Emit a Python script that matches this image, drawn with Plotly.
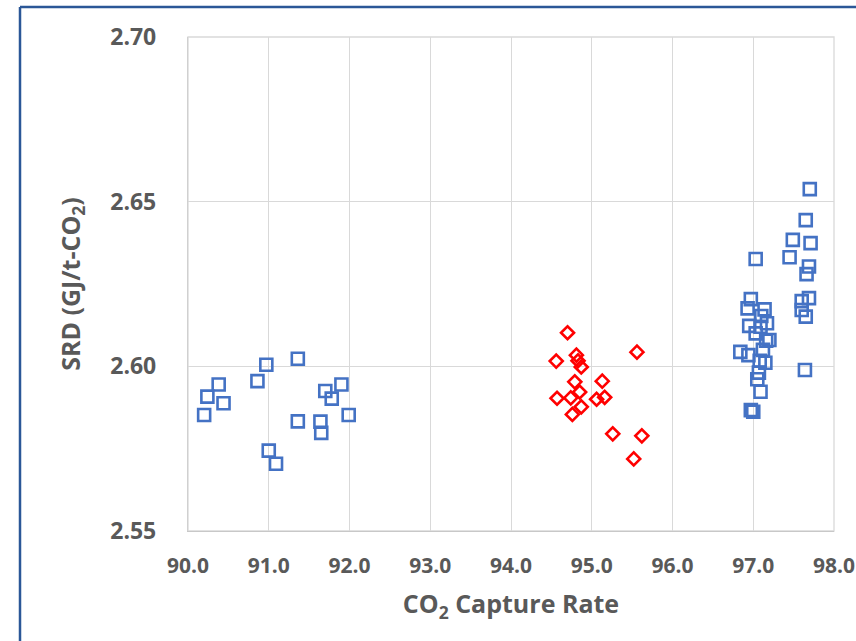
import plotly.graph_objects as go

# CO2 capture rate (%) and specific reboiler duty (GJ/t-CO2)
low_capture_rate = [90.20, 90.24, 90.38, 90.44, 90.86, 90.97, 91.36, 91.00,
                    91.09, 91.36, 91.70, 91.78, 91.90, 91.64, 91.65, 91.99]
low_srd = [2.5852, 2.5908, 2.5945, 2.5888, 2.5955, 2.6005, 2.6023, 2.5744,
           2.5704, 2.5833, 2.5925, 2.5902, 2.5945, 2.5832, 2.5798, 2.5852]

mid_capture_rate = [94.70, 94.56, 94.81, 94.83, 94.87, 95.56, 94.79, 95.13, 94.57,
                    94.74, 94.85, 95.06, 95.16, 94.87, 94.76, 95.26, 95.62, 95.52]
mid_srd = [2.6102, 2.6016, 2.6034, 2.6017, 2.5998, 2.6043, 2.5953, 2.5955, 2.5903,
           2.5904, 2.5922, 2.5900, 2.5906, 2.5877, 2.5854, 2.5795, 2.5789, 2.5719]

high_capture_rate = [97.70, 97.65, 97.49, 97.71, 97.45, 97.03, 97.69, 97.66, 97.69,
                     97.60, 97.60, 97.65, 97.64, 96.97, 96.93, 97.14, 97.10, 97.17,
                     96.95, 97.09, 97.03, 97.20, 97.16, 96.84, 96.94, 97.12, 97.15,
                     97.08, 97.07, 97.05, 97.09, 96.97, 97.00]
high_srd = [2.6538, 2.6444, 2.6384, 2.6374, 2.6331, 2.6326, 2.6303, 2.6280, 2.6207,
            2.6198, 2.6171, 2.6151, 2.5989, 2.6204, 2.6176, 2.6173, 2.6153, 2.6131,
            2.6123, 2.6120, 2.6100, 2.6080, 2.6078, 2.6044, 2.6034, 2.6050, 2.6011,
            2.6017, 2.5981, 2.5961, 2.5923, 2.5867, 2.5862]

x_ticks = [90.0, 91.0, 92.0, 93.0, 94.0, 95.0, 96.0, 97.0, 98.0]
y_ticks = [2.55, 2.60, 2.65, 2.70]

BLUE = "#4472C4"
RED = "#FF0000"
TEXT = "#595959"
GRID = "#D9D9D9"
FONT = "Open Sans"

W, H = 856, 641
L, R, T, B = 188, 22, 37, 110

fig = go.Figure()

square = dict(symbol="square-open", size=12, color=BLUE, line=dict(width=2.6, color=BLUE))
diamond = dict(symbol="diamond-open", size=10, color=RED, line=dict(width=2.6, color=RED))

fig.add_trace(go.Scatter(x=low_capture_rate, y=low_srd, mode="markers",
                         marker=square, showlegend=False))
fig.add_trace(go.Scatter(x=mid_capture_rate, y=mid_srd, mode="markers",
                         marker=diamond, showlegend=False))
fig.add_trace(go.Scatter(x=high_capture_rate, y=high_srd, mode="markers",
                         marker=square, showlegend=False))

# outer frame (left and top edges of the chart box)
pw, ph = W - L - R, H - T - B
def px_x(p):
    return (p - L) / pw
def px_y(p):
    return (H - B - p) / ph

fig.add_shape(type="line", xref="paper", yref="paper",
              x0=px_x(20), x1=px_x(20), y0=px_y(H + 5), y1=px_y(7),
              line=dict(color="#2B5797", width=2.5))
fig.add_shape(type="line", xref="paper", yref="paper",
              x0=px_x(20), x1=px_x(W + 5), y0=px_y(7), y1=px_y(7),
              line=dict(color="#2B5797", width=2.5))

fig.update_layout(
    width=W, height=H,
    margin=dict(l=L, r=R, t=T, b=B, autoexpand=False),
    paper_bgcolor="white", plot_bgcolor="white",
    font=dict(family=FONT, color=TEXT),
    xaxis=dict(
        range=[90, 98], tickvals=x_ticks,
        ticktext=[f"{v:.1f}" for v in x_ticks],
        showgrid=True, gridcolor=GRID, gridwidth=1.3,
        showline=True, linecolor="#C8C8C8", linewidth=1.3, mirror=False,
        zeroline=False, ticks="", ticklabelstandoff=16,
        tickfont=dict(family=FONT, size=21, color=TEXT, weight="bold"),
        title=dict(text="CO<sub>2</sub> Capture Rate", standoff=17,
                   font=dict(family=FONT, size=25, color=TEXT, weight="bold")),
    ),
    yaxis=dict(
        range=[2.55, 2.70], tickvals=y_ticks,
        ticktext=[f"{v:.2f}" for v in y_ticks],
        showgrid=True, gridcolor=GRID, gridwidth=1.3,
        showline=True, linecolor="#D0D0D0", linewidth=1.3,
        zeroline=False, ticks="", ticklabelstandoff=26,
        tickfont=dict(family=FONT, size=23, color=TEXT, weight="bold"),
        title=dict(text="SRD (GJ/t-CO<sub>2</sub>)", standoff=22,
                   font=dict(family=FONT, size=25, color=TEXT, weight="bold")),
    ),
)

# right edge gridline at 98 and top at 2.70 close the plot area
fig.add_shape(type="rect", xref="paper", yref="paper", x0=0, x1=1, y0=0, y1=1,
              line=dict(color=GRID, width=1.3), layer="below")

fig.write_html("out.html")
